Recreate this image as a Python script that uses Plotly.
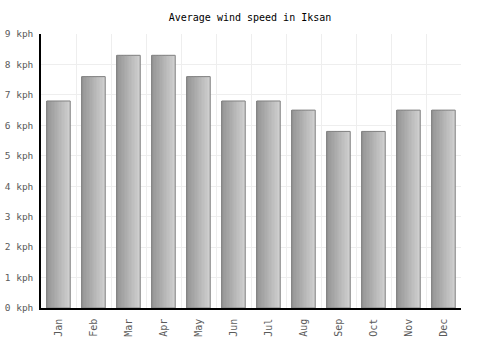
import plotly.graph_objects as go

months = ["Jan", "Feb", "Mar", "Apr", "May", "Jun", "Jul", "Aug", "Sep", "Oct", "Nov", "Dec"]
wind_kph = [6.8, 7.6, 8.3, 8.3, 7.6, 6.8, 6.8, 6.5, 5.8, 5.8, 6.5, 6.5]

fig = go.Figure()

# gradient fill built from thin overlaid slices of the same bars
n_slices = 16
bar_w = 0.67
c0 = (150, 150, 150)
c1 = (206, 206, 206)
for i in range(n_slices):
    t = i / (n_slices - 1)
    col = "rgb({},{},{})".format(*[int(a + (b - a) * t) for a, b in zip(c0, c1)])
    fig.add_trace(go.Bar(
        x=months, y=wind_kph,
        width=bar_w / n_slices,
        offset=-bar_w / 2 + i * bar_w / n_slices,
        marker=dict(color=col, line=dict(width=0)),
        showlegend=False, hoverinfo="skip",
    ))

# outline
fig.add_trace(go.Bar(
    x=months, y=wind_kph, width=bar_w, offset=-bar_w / 2,
    marker=dict(color="rgba(0,0,0,0)", line=dict(color="#808080", width=1)),
    showlegend=False,
))

fig.update_layout(
    barmode="overlay",
    width=500, height=350,
    margin=dict(l=41, r=39, t=34, b=42),
    paper_bgcolor="white", plot_bgcolor="white",
    title=dict(text="Average wind speed in Iksan", x=0.5, xanchor="center",
               y=1 - 17 / 350, yanchor="middle",
               font=dict(family="DejaVu Sans Mono", size=10, color="black")),
    font=dict(family="DejaVu Sans Mono", size=10, color="#5a5a5a"),
    xaxis=dict(
        type="category", range=[-0.5, 11.5], tickson="boundaries",
        showgrid=True, gridcolor="#eeeeee", gridwidth=1,
        showline=True, linecolor="black", linewidth=1.5,
        ticks="", tickangle=-90, ticklen=0, automargin=False,
        ticklabelstandoff=5,
        tickfont=dict(family="DejaVu Sans Mono", size=10, color="#5a5a5a"),
    ),
    yaxis=dict(
        range=[0, 9], dtick=1, ticksuffix=" kph",
        showgrid=True, gridcolor="#eeeeee", gridwidth=1,
        showline=True, linecolor="black", linewidth=1.5,
        zeroline=False, ticks="", automargin=False,
        ticklabelstandoff=4,
        tickfont=dict(family="DejaVu Sans Mono", size=9.5, color="#5a5a5a"),
    ),
)

fig.write_html("out.html")
